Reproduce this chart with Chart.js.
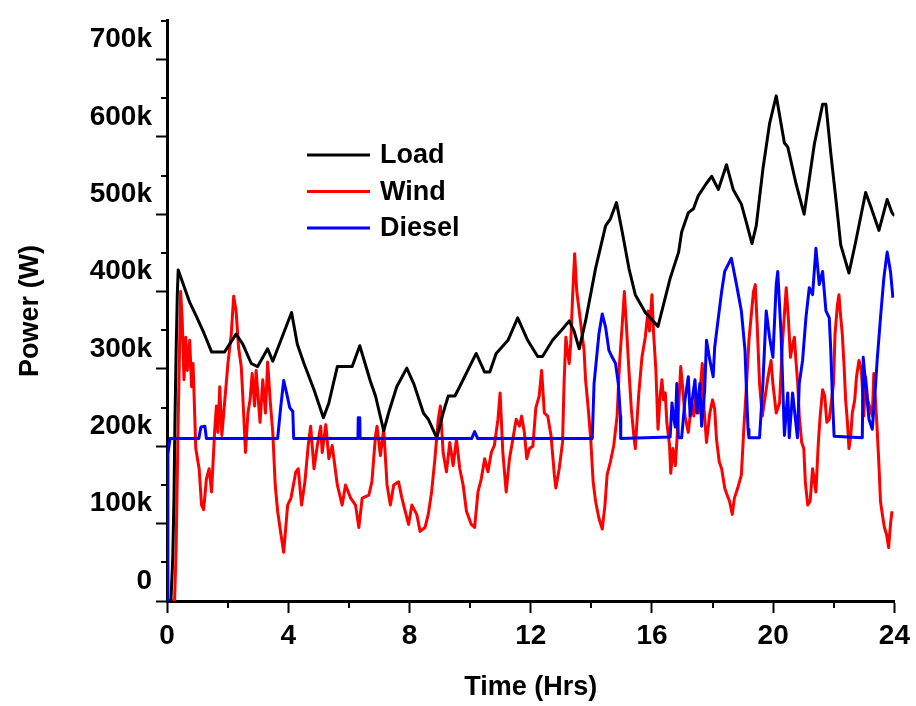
<!DOCTYPE html>
<html>
<head>
<meta charset="utf-8">
<title>Load, Wind and Diesel power</title>
<script src="https://cdn.jsdelivr.net/npm/chart.js@4.4.1/dist/chart.umd.min.js"></script>
<style>
    html, body { margin: 0; padding: 0; background: #fff; }
    #wrap { position: relative; width: 916px; height: 706px; }
</style>
</head>
<body>
<div id="wrap"><canvas id="chart" width="916" height="706"></canvas></div>
<script>
// Values (time in hours, power in kW -> converted to W below)
const loadHours = [0, 0.13, 0.19, 0.23, 0.26, 0.30, 0.34, 0.37, 0.75, 0.97, 1.19, 1.47, 1.90, 2.28, 2.50, 2.78, 2.99, 3.32, 3.49, 4.11,
    4.30, 4.52, 4.85, 5.16, 5.34, 5.62, 6.11, 6.36, 6.71, 6.88, 7.15, 7.31, 7.58, 7.91, 8.15, 8.46, 8.62, 8.90, 9.11, 9.28,
    9.50, 9.77, 10.20, 10.48, 10.65, 10.86, 11.25, 11.57, 11.90, 12.23, 12.39, 12.72, 13.10, 13.27, 13.43, 13.60, 13.81, 14.14, 14.47, 14.63,
    14.83, 15.02, 15.24, 15.45, 15.78, 16.20, 16.60, 16.88, 16.98, 17.20, 17.37, 17.53, 17.80, 17.97, 18.19, 18.46, 18.68, 18.95, 19.11, 19.30,
    19.44, 19.66, 19.88, 20.10, 20.37, 20.48, 20.75, 21.02, 21.36, 21.63, 21.74, 21.90, 22.07, 22.23, 22.50, 22.72, 23.05, 23.21, 23.49, 23.76,
    23.92, 24.0];
const loadKW = [0, 0, 56, 133, 227, 320, 396, 428, 386, 368, 349, 322, 322, 345, 332, 307, 303, 326, 310, 373,
    332, 307, 273, 237, 256, 303, 303, 330, 284, 265, 220, 243, 277, 301, 280, 243, 235, 211, 243, 265,
    265, 286, 320, 296, 296, 320, 337, 366, 337, 316, 316, 337, 354, 362, 349, 326, 362, 430, 485, 494,
    515, 477, 430, 396, 373, 355, 417, 451, 477, 502, 507, 524, 540, 549, 532, 564, 532, 513, 490, 462,
    485, 558, 617, 653, 592, 587, 540, 500, 591, 642, 642, 579, 519, 460, 424, 464, 528, 511, 479, 519,
    502, 498];

const windHours = [0, 0.25, 0.30, 0.37, 0.45, 0.50, 0.56, 0.62, 0.67, 0.75, 0.81, 0.86, 0.95, 1.06, 1.14, 1.21, 1.30, 1.39, 1.47, 1.57,
    1.63, 1.68, 1.74, 1.81, 1.90, 2.01, 2.12, 2.20, 2.28, 2.36, 2.45, 2.50, 2.59, 2.67, 2.74, 2.81, 2.89, 2.94, 3.02, 3.07,
    3.16, 3.25, 3.32, 3.41, 3.49, 3.57, 3.65, 3.76, 3.85, 3.98, 4.09, 4.25, 4.33, 4.44, 4.55, 4.66, 4.74, 4.85, 4.96, 5.07,
    5.12, 5.24, 5.34, 5.45, 5.62, 5.78, 5.89, 6.06, 6.22, 6.33, 6.44, 6.66, 6.76, 6.88, 6.93, 7.04, 7.15, 7.26, 7.37, 7.48,
    7.64, 7.75, 7.86, 7.97, 8.08, 8.24, 8.35, 8.51, 8.62, 8.73, 8.84, 8.95, 9.02, 9.11, 9.22, 9.33, 9.44, 9.55, 9.66, 9.77,
    9.88, 10.04, 10.15, 10.26, 10.37, 10.48, 10.59, 10.70, 10.80, 10.92, 10.99, 11.08, 11.19, 11.30, 11.41, 11.52, 11.63, 11.70, 11.79, 11.87,
    11.96, 12.07, 12.17, 12.28, 12.36, 12.45, 12.56, 12.67, 12.78, 12.83, 12.94, 13.05, 13.10, 13.16, 13.21, 13.27, 13.32, 13.38, 13.45, 13.52,
    13.60, 13.68, 13.76, 13.81, 13.90, 13.98, 14.06, 14.14, 14.25, 14.36, 14.45, 14.52, 14.63, 14.74, 14.85, 14.93, 15.02, 15.09, 15.16, 15.24,
    15.32, 15.40, 15.45, 15.56, 15.67, 15.78, 15.87, 15.92, 16.00, 16.05, 16.13, 16.20, 16.27, 16.33, 16.38, 16.44, 16.49, 16.58, 16.62, 16.69,
    16.77, 16.82, 16.87, 16.95, 17.02, 17.09, 17.20, 17.31, 17.38, 17.45, 17.53, 17.58, 17.66, 17.72, 17.80, 17.91, 18.00, 18.07, 18.13, 18.22,
    18.30, 18.40, 18.48, 18.56, 18.65, 18.72, 18.83, 18.95, 19.03, 19.11, 19.20, 19.28, 19.35, 19.41, 19.47, 19.55, 19.64, 19.72, 19.83, 19.93,
    19.99, 20.10, 20.21, 20.30, 20.43, 20.50, 20.57, 20.65, 20.70, 20.75, 20.81, 20.86, 20.94, 21.01, 21.06, 21.14, 21.22, 21.30, 21.35, 21.41,
    21.49, 21.55, 21.63, 21.70, 21.77, 21.85, 21.99, 22.04, 22.12, 22.17, 22.23, 22.28, 22.34, 22.39, 22.45, 22.50, 22.56, 22.61, 22.69, 22.75,
    22.83, 22.91, 22.99, 23.05, 23.12, 23.27, 23.32, 23.38, 23.43, 23.49, 23.54, 23.60, 23.67, 23.74, 23.81, 23.87, 23.92];
const windKW = [0, 0, 65, 235, 400, 366, 286, 341, 298, 337, 277, 307, 197, 171, 124, 118, 158, 171, 141, 218,
    252, 218, 277, 214, 256, 307, 345, 394, 375, 328, 303, 265, 192, 243, 260, 294, 252, 298, 256, 231,
    286, 243, 309, 256, 218, 150, 116, 86, 63, 124, 133, 167, 171, 124, 154, 201, 226, 171, 201, 226,
    192, 228, 184, 201, 150, 124, 150, 133, 124, 95, 133, 137, 154, 214, 226, 188, 222, 150, 124, 150,
    154, 133, 116, 99, 124, 112, 90, 95, 112, 141, 184, 235, 252, 192, 167, 205, 175, 209, 171, 150,
    116, 99, 95, 141, 158, 184, 167, 192, 201, 235, 269, 192, 141, 184, 209, 235, 226, 239, 218, 184,
    197, 200, 250, 265, 298, 243, 239, 214, 163, 146, 171, 205, 281, 341, 324, 307, 333, 392, 449, 400,
    375, 349, 324, 286, 248, 209, 154, 129, 107, 93, 124, 163, 180, 201, 239, 307, 358, 400, 354, 298,
    248, 214, 197, 265, 315, 341, 375, 349, 396, 349, 298, 222, 265, 286, 260, 269, 231, 201, 165, 197,
    175, 205, 243, 303, 273, 239, 218, 256, 239, 265, 243, 269, 307, 248, 205, 243, 260, 248, 209, 180,
    171, 146, 137, 129, 112, 133, 146, 163, 222, 273, 337, 371, 400, 409, 358, 281, 239, 260, 290, 311,
    281, 243, 256, 330, 405, 366, 315, 333, 341, 311, 281, 239, 205, 197, 154, 124, 129, 171, 158, 141,
    205, 239, 273, 265, 231, 235, 281, 345, 383, 396, 366, 345, 303, 260, 231, 197, 214, 243, 260, 290,
    311, 298, 239, 290, 260, 239, 294, 256, 222, 175, 129, 112, 95, 86, 69, 99, 116];

const dieselHours = [0, 0.03, 0.10, 1.05, 1.12, 1.25, 1.30, 3.65, 3.75, 3.85, 3.95, 4.05, 4.15, 4.18, 6.30, 6.31, 6.36, 6.37, 10.05, 10.15,
    10.25, 14.03, 14.09, 14.25, 14.36, 14.47, 14.58, 14.69, 14.80, 14.89, 14.96, 14.97, 16.60, 16.66, 16.71, 16.77, 16.82, 16.87, 16.98, 17.09,
    17.20, 17.26, 17.36, 17.42, 17.48, 17.58, 17.64, 17.74, 17.80, 17.91, 18.02, 18.07, 18.19, 18.30, 18.40, 18.62, 18.79, 18.95, 19.07, 19.11,
    19.17, 19.20, 19.55, 19.66, 19.77, 19.88, 19.99, 20.10, 20.15, 20.26, 20.37, 20.48, 20.53, 20.64, 20.80, 20.86, 20.97, 21.08, 21.19, 21.30,
    21.41, 21.52, 21.63, 21.74, 21.85, 21.90, 21.96, 22.01, 22.94, 22.97, 23.05, 23.16, 23.27, 23.38, 23.43, 23.54, 23.65, 23.76, 23.87, 23.95];
const dieselKW = [0, 190, 210, 210, 225, 226, 210, 210, 250, 285, 268, 250, 245, 210, 210, 237, 237, 210, 210, 219,
    210, 210, 281, 345, 371, 354, 324, 315, 307, 281, 239, 210, 212, 256, 239, 225, 281, 211, 211, 260,
    290, 239, 269, 286, 243, 281, 226, 273, 337, 311, 290, 328, 366, 400, 426, 443, 409, 375, 324, 281,
    222, 211, 211, 281, 375, 341, 315, 409, 426, 345, 214, 269, 211, 269, 211, 281, 311, 366, 405, 396,
    456, 409, 426, 375, 366, 324, 256, 213, 211, 315, 281, 235, 222, 281, 311, 366, 417, 451, 426, 392];

const seriesNames = ['Load', 'Wind', 'Diesel'];
const seriesColors = ['#000000', '#ff0000', '#0000ff'];

const xMajorTicks = [0, 4, 8, 12, 16, 20, 24];
const xMinorTicks = [2, 6, 10, 14, 18, 22];
const yMajorTicks = [0, 100000, 200000, 300000, 400000, 500000, 600000, 700000];
const yMinorTicks = [50000, 150000, 250000, 350000, 450000, 550000, 650000, 750000];

const FONT = '"Liberation Sans", Arial, sans-serif';

function toPoints(hours, kw) {
    return hours.map((h, i) => ({ x: h, y: kw[i] * 1000 }));
}

// short minor ticks, Origin style
const minorTicksPlugin = {
    id: 'minorTicks',
    afterDraw(chart) {
        const ctx = chart.ctx;
        const xs = chart.scales.x, ys = chart.scales.y;
        const area = chart.chartArea;
        ctx.save();
        ctx.strokeStyle = '#000';
        ctx.lineWidth = 2;
        ctx.beginPath();
        xMinorTicks.forEach(v => {
            const px = Math.round(xs.getPixelForValue(v));
            ctx.moveTo(px, area.bottom);
            ctx.lineTo(px, area.bottom + 7);
        });
        yMinorTicks.forEach(v => {
            const py = Math.round(ys.getPixelForValue(v));
            ctx.moveTo(area.left, py);
            ctx.lineTo(area.left - 6, py);
        });
        ctx.stroke();
        ctx.restore();
    }
};

// legend drawn inside the plot, like the original
const insideLegendPlugin = {
    id: 'insideLegend',
    afterDraw(chart) {
        const ctx = chart.ctx;
        ctx.save();
        ctx.font = 'bold 27px ' + FONT;
        ctx.textBaseline = 'middle';
        ctx.textAlign = 'left';
        chart.data.datasets.forEach((ds, i) => {
            const y = 155 + i * 36.5;
            ctx.strokeStyle = ds.borderColor;
            ctx.lineWidth = 3;
            ctx.beginPath();
            ctx.moveTo(307, y);
            ctx.lineTo(370, y);
            ctx.stroke();
            ctx.fillStyle = '#000';
            ctx.fillText(ds.label, 380, y + 1);
        });
        ctx.restore();
    }
};

const ctx = document.getElementById('chart');
new Chart(ctx, {
    type: 'line',
    data: {
        datasets: [
            { label: seriesNames[0], data: toPoints(loadHours, loadKW), borderColor: seriesColors[0], order: 1 },
            { label: seriesNames[1], data: toPoints(windHours, windKW), borderColor: seriesColors[1], order: 2 },
            { label: seriesNames[2], data: toPoints(dieselHours, dieselKW), borderColor: seriesColors[2], order: 0 }
        ]
    },
    options: {
        responsive: false,
        animation: false,
        events: [],
        layout: { padding: { top: 12, right: 17, bottom: 0, left: 0 } },
        elements: {
            point: { radius: 0 },
            line: { borderWidth: 3, tension: 0, borderJoinStyle: 'round' }
        },
        plugins: {
            legend: { display: false },
            tooltip: { enabled: false }
        },
        scales: {
            x: {
                type: 'linear',
                min: 0,
                max: 24,
                afterBuildTicks(scale) {
                    scale.ticks = xMajorTicks.map(v => ({ value: v }));
                },
                afterFit(scale) { scale.height = 105; },
                border: { display: true, color: '#000', width: 3 },
                grid: { drawOnChartArea: false, drawTicks: true, tickLength: 12, tickWidth: 2, tickColor: '#000' },
                ticks: {
                    color: '#000',
                    padding: 6,
                    maxRotation: 0,
                    autoSkip: false,
                    font: { family: FONT, size: 28, weight: 'bold' }
                },
                title: {
                    display: true,
                    text: 'Time (Hrs)',
                    color: '#000',
                    padding: { top: 0, bottom: 2 },
                    font: { family: FONT, size: 27, weight: 'bold' }
                }
            },
            y: {
                type: 'linear',
                min: 0,
                max: 750000,
                afterBuildTicks(scale) {
                    scale.ticks = yMajorTicks.map(v => ({ value: v }));
                },
                ticks: {
                    color: '#000',
                    padding: 4,
                    labelOffset: -20,
                    autoSkip: false,
                    font: { family: FONT, size: 28, weight: 'bold' },
                    callback: v => (v === 0 ? '0' : (v / 1000) + 'k')
                },
                afterFit(scale) { scale.width = 167; },
                border: { display: true, color: '#000', width: 3 },
                grid: { drawOnChartArea: false, drawTicks: true, tickLength: 11, tickWidth: 2, tickColor: '#000' },
                title: {
                    display: true,
                    text: 'Power (W)',
                    color: '#000',
                    padding: { top: 14, bottom: 0 },
                    font: { family: FONT, size: 27, weight: 'bold' }
                }
            }
        }
    },
    plugins: [minorTicksPlugin, insideLegendPlugin]
});
</script>
</body>
</html>
